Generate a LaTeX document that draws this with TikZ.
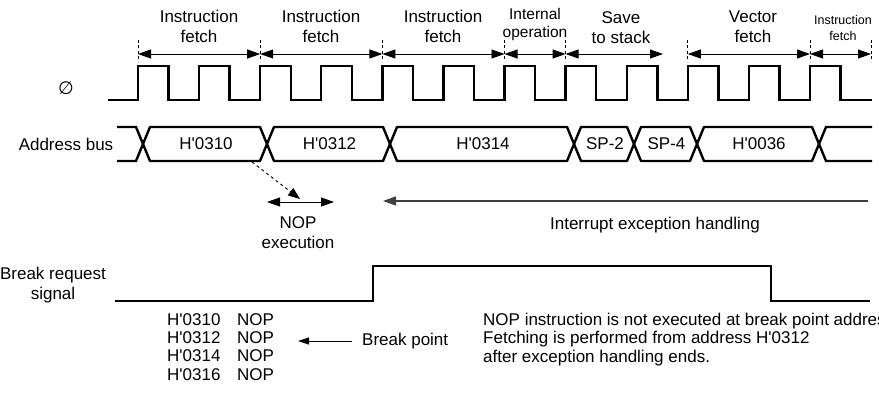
\documentclass[tikz,border=0pt]{standalone}
\usepackage{fontspec}
\setmainfont{Liberation Sans}
\newfontfamily\symfont{DejaVu Sans}
\usetikzlibrary{arrows.meta}
\newcommand{\hq}{\textquotesingle}

\begin{document}
\begin{tikzpicture}[x=1pt,y=-1pt,
  sig/.style={line width=2.4pt},
  dim/.style={line width=0.9pt,{Triangle[length=13pt,width=9pt]}-{Triangle[length=13pt,width=9pt]}},
  tick/.style={line width=0.8pt,dash pattern=on 3pt off 2.5pt},
  lbl/.style={align=center,inner sep=0pt,font=\fontsize{17}{20}\selectfont},
  txt/.style={align=left,inner sep=0pt,font=\fontsize{17}{18.4}\selectfont}]
\path[use as bounding box] (0,0) rectangle (879,396);
% clock
\node[lbl,font=\symfont\fontsize{18}{20}\selectfont] (phi) at (66,88) {∅};
\draw[sig] (108,100) foreach \k in {0,...,11}{
  -- ({138+61.09*\k},100) -- ({138+61.09*\k},66)
  -- ({168.6+61.09*\k},66) -- ({168.6+61.09*\k},100)} -- (872,100);
% cycle boundaries
\foreach \n/\x in {0/138,1/260.2,2/382.4,3/504.5,4/565.6,5/687.8,6/810,7/871}{
  \draw[tick] (\x,40) -- (\x,62);
  \coordinate (t\n) at (\x,54);
}
\coordinate (s1) at (663,54);
\draw[dim] (t0) -- (t1);
\draw[dim] (t1) -- (t2);
\draw[dim] (t2) -- (t3);
\draw[dim] (t3) -- (t4);
\draw[dim] (t4) -- (s1);
\draw[dim] (t5) -- (t6);
\draw[dim] (t6) -- (t7);
\node[lbl] (if1) at (199,26) {Instruction\\fetch};
\node[lbl] (if2) at (321,26) {Instruction\\fetch};
\node[lbl] (if3) at (443,26) {Instruction\\fetch};
\node[lbl,font=\fontsize{15.5}{18}\selectfont] (intop) at (535,24) {Internal\\operation};
\node[lbl] (save) at (621,28) {Save\\to stack};
\node[lbl] (vec) at (753,27) {Vector\\fetch};
\node[lbl,font=\fontsize{12.5}{16}\selectfont] (if4) at (843,28) {Instruction\\fetch};
% address bus
\node[lbl] (abus) at (66,144) {Address bus};
\draw[sig] (117,127) -- (136,127) -- (143,144) -- (136,161) -- (117,161);
\foreach \a/\b/\v in {143/267/H\hq0310,267/390/H\hq0312,390/574/H\hq0314,
                      574/634/SP-2,634/697/SP-4,697/819/H\hq0036}{
  \draw[sig,line join=bevel] (\a,144) -- ({\a+7},127) -- ({\b-7},127) -- (\b,144)
    -- ({\b-7},161) -- ({\a+7},161) -- cycle;
  \node[lbl] (v\a) at ({(\a+\b)/2+1},144) {\v};
}
\draw[sig] (872,127) -- (826,127) -- (819,144) -- (826,161) -- (872,161);
% NOP execution
\coordinate (brk) at (252,162);
\coordinate (nop) at (300,199);
\coordinate (n0) at (267,202);
\coordinate (n1) at (334,202);
\draw[line width=0.9pt,dash pattern=on 3pt off 3pt,-{Triangle[length=12pt,width=9pt]}] (brk) -- (nop);
\draw[dim] (n0) -- (n1);
\node[lbl] (nopx) at (298,233) {NOP\\execution};
% interrupt exception handling
\coordinate (ie0) at (868,201);
\coordinate (ie1) at (383,201);
\draw[line width=1.3pt,black!75,-{Triangle[length=13pt,width=9pt]}] (ie0) -- (ie1);
\node[lbl] (ieh) at (655,225) {Interrupt exception handling};
% break request signal
\node[lbl] (brq) at (53,285) {Break request\\signal};
\draw[sig] (115,301) -- (373,301) -- (373,266) -- (771,266) -- (771,301) -- (870,301);
% break point
\node[txt,anchor=north west] (adr) at (167,313) {H\hq0310\\H\hq0312\\H\hq0314\\H\hq0316};
\node[txt,anchor=north west] (ops) at (237,313) {NOP\\NOP\\NOP\\NOP};
\node[txt,anchor=west] (bp) at (362,341) {Break point};
\coordinate (bp0) at (352,341);
\coordinate (bp1) at (298,341);
\draw[line width=0.9pt,-{Triangle[length=11pt,width=7pt]}] (bp0) -- (bp1);
\node[txt,anchor=north west] (note) at (483,313) {NOP instruction is not executed at break point address.\\
Fetching is performed from address H\hq0312\\after exception handling ends.};
\end{tikzpicture}
\end{document}
